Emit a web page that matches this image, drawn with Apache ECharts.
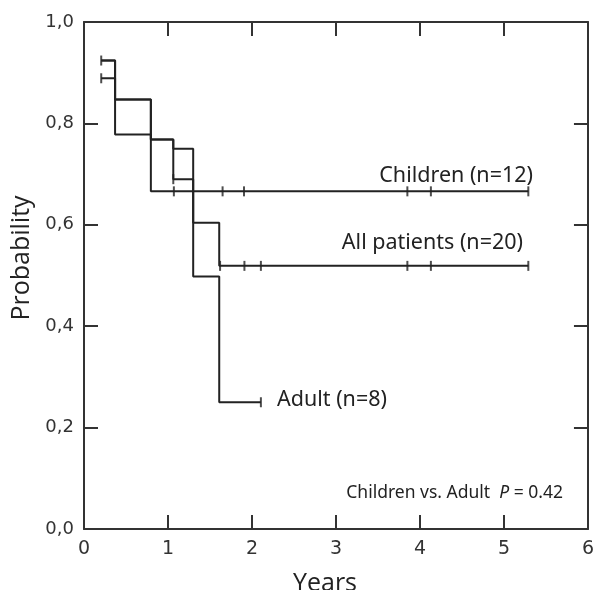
<!DOCTYPE html>
<html>
<head>
<meta charset="utf-8">
<script src="https://cdn.jsdelivr.net/npm/echarts@6/dist/echarts.min.js"></script>
<style>
html,body{margin:0;padding:0;background:#fff;}
#chart{width:597px;height:590px;}
</style>
</head>
<body>
<div id="chart"></div>
<script>
// step curves: time where the level starts, and the level from there on
var childTimes = [0.205, 0.37, 0.796, 5.29]
var childSurv = [0.924, 0.847, 0.666, 0.666]
var childCensor = [0.205, 1.07, 1.65, 1.905, 3.85, 4.13, 5.29]

var allTimes = [0.205, 0.37, 0.796, 1.063, 1.30, 1.61, 5.29]
var allSurv = [0.924, 0.847, 0.768, 0.690, 0.604, 0.519, 0.519]
var allCensor = [1.063, 1.62, 1.91, 2.106, 3.85, 4.13, 5.29]

var adultTimes = [0.205, 0.37, 0.796, 1.063, 1.30, 1.61, 2.106]
var adultSurv = [0.889, 0.778, 0.768, 0.750, 0.498, 0.25, 0.25]
var adultCensor = [0.205, 2.106]

function pairs(times, surv){
    var out = []
    for (var i = 0; i < times.length; i++){
        out.push([times[i], surv[i]])
    }
    return out
}
// level of a step curve at time t
function levelAt(times, surv, t){
    var v = surv[0]
    for (var i = 0; i < times.length; i++){
        if (t >= times[i] - 1e-9) v = surv[i]
    }
    return v
}
function censorPts(times, surv, cs){
    var out = []
    for (var i = 0; i < cs.length; i++){
        out.push([cs[i], levelAt(times, surv, cs[i])])
    }
    return out
}

var lineCol = '#222'
function curve(name, times, surv){
    return {
        name: name, type: 'line', step: 'end', symbol: 'none',
        data: pairs(times, surv),
        lineStyle: {color: lineCol, width: 2},
        animation: false
    }
}
function censor(name, times, surv, cs){
    return {
        name: name, type: 'scatter', symbol: 'rect', symbolSize: [2, 10],
        itemStyle: {color: lineCol},
        data: censorPts(times, surv, cs),
        animation: false
    }
}

var axisCol = '#333'
var labelFont = 'DejaVu Sans'
function boxAxis(extra){
    var ax = {
        type: 'value',
        axisLine: {show: true, onZero: false, lineStyle: {color: axisCol, width: 2}},
        axisTick: {show: true, inside: true, length: 14, lineStyle: {color: axisCol, width: 2}},
        splitLine: {show: false}
    }
    for (var k in extra) ax[k] = extra[k]
    return ax
}

var chart = echarts.init(document.getElementById('chart'))
var option = {
    animation: false,
    grid: {left: 84, right: 5, top: 22, bottom: 61},
    xAxis: [
        boxAxis({min: 0, max: 6, interval: 1, position: 'bottom',
            axisLabel: {fontFamily: labelFont, fontSize: 19, color: '#333', margin: 11}}),
        boxAxis({min: 0, max: 6, interval: 1, position: 'top', axisLabel: {show: false}})
    ],
    yAxis: [
        boxAxis({min: 0, max: 1, interval: 0.2, position: 'left',
            axisLabel: {
                fontFamily: labelFont, fontSize: 18, color: '#333', margin: 10,
                formatter: function(v){ return v.toFixed(1).replace('.', ',') }
            }}),
        boxAxis({min: 0, max: 1, interval: 0.2, position: 'right', axisLabel: {show: false}})
    ],
    series: [
        curve('Children', childTimes, childSurv),
        curve('All patients', allTimes, allSurv),
        curve('Adult', adultTimes, adultSurv),
        censor('Children censored', childTimes, childSurv, childCensor),
        censor('All censored', allTimes, allSurv, allCensor),
        censor('Adult censored', adultTimes, adultSurv, adultCensor)
    ],
    graphic: [
        {type: 'text', x: 22, y: 258, rotation: Math.PI / 2,
            style: {text: 'Probability', font: '25px "Open Sans"', fill: '#222', align: 'center', verticalAlign: 'middle'}},
        {type: 'text', x: 325, y: 584,
            style: {text: 'Years', font: '25px "Open Sans"', fill: '#222', align: 'center', verticalAlign: 'middle'}},
        {type: 'text', x: 533, y: 176,
            style: {text: 'Children (n=12)', font: '21.5px "Noto Sans"', fill: '#222', align: 'right', verticalAlign: 'middle'}},
        {type: 'text', x: 523, y: 243,
            style: {text: 'All patients (n=20)', font: '21.5px "Noto Sans"', fill: '#222', align: 'right', verticalAlign: 'middle'}},
        {type: 'text', x: 277, y: 400,
            style: {text: 'Adult (n=8)', font: '21.5px "Noto Sans"', fill: '#222', align: 'left', verticalAlign: 'middle'}},
        {type: 'text', x: 563, y: 493, style: {
            text: 'Children vs. Adult  {i|P} = 0.42', font: '17.5px "Noto Sans"', fill: '#222',
            align: 'right', verticalAlign: 'middle',
            rich: {i: {fontStyle: 'italic', fontFamily: 'Noto Sans', fontSize: 17.5, fill: '#222'}}
        }}
    ]
}
option && chart.setOption(option)
</script>
</body>
</html>
